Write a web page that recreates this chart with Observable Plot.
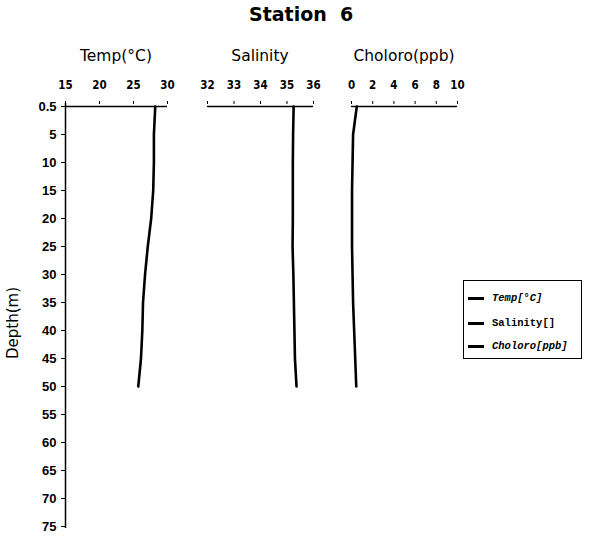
<!DOCTYPE html>
<html>
<head>
<meta charset="utf-8">
<script src="https://cdn.jsdelivr.net/npm/d3@7"></script>
<script src="https://cdn.jsdelivr.net/npm/@observablehq/plot@0.6"></script>
<style>
  html, body { margin: 0; padding: 0; background: #fff; }
  #chart { position: relative; width: 598px; height: 542px; overflow: hidden; font-family: "DejaVu Sans", sans-serif; color: #000; }
  #chart svg { position: absolute; top: 0; overflow: visible; }
  .title { position: absolute; top: 3px; left: 249px; font: bold 19px "DejaVu Sans", sans-serif; white-space: pre; }
  .sub { position: absolute; top: 47px; width: 140px; text-align: center; font: 15.5px "DejaVu Sans", sans-serif; }
  .ylab { position: absolute; left: 13px; top: 323px; transform: translate(-50%, -50%) rotate(-90deg); font: 15px "DejaVu Sans", sans-serif; white-space: nowrap; }
  .legend { position: absolute; left: 463px; top: 280px; width: 119px; height: 79px; border: 1px solid #000; box-sizing: border-box; }
  .legend .row { position: absolute; left: 4px; height: 14px; display: flex; align-items: center; font: bold 10.5px "Liberation Mono", "DejaVu Sans Mono", monospace; white-space: pre; }
  .legend .sw { display: inline-block; width: 16px; height: 3px; background: #000; margin-right: 8px; }
</style>
</head>
<body>
<div id="chart"></div>
<script>
// ---- data ----
const depthTicks = [0.5, 5, 10, 15, 20, 25, 30, 35, 40, 45, 50, 55, 60, 65, 70, 75];
const depths    = [0.5, 5, 10, 15, 20, 25, 30, 35, 40, 45, 50];
const temp      = [28.2, 28.0, 28.0, 27.9, 27.6, 27.1, 26.7, 26.4, 26.3, 26.1, 25.7];
const salinity  = [35.25, 35.23, 35.22, 35.22, 35.22, 35.21, 35.24, 35.26, 35.28, 35.30, 35.36];
const chloro    = [0.5, 0.15, 0.1, 0.05, 0.05, 0.05, 0.1, 0.15, 0.25, 0.35, 0.45];
const tempTicks = [15, 20, 25, 30];
const salTicks  = [32, 33, 34, 35, 36];
const chlTicks  = [0, 2, 4, 6, 8, 10];
const panelTitles = ["Temp(°C)", "Salinity", "Choloro(ppb)"];
const legendLabels = ["Temp[°C]", "Salinity[]", "Choloro[ppb]"];
const chartTitle = "Station  6";
const yTitle = "Depth(m)";

const rows = depths.map((d, i) => ({depth: d, temp: temp[i], salinity: salinity[i], chloro: chloro[i]}));

const chart = document.getElementById("chart");
const H = 542, MT = 103, MB = 14;
const tickFont = {fontSize: 11.5, fontWeight: "bold", fontFamily: "'DejaVu Sans Condensed', 'Liberation Sans Narrow', 'Liberation Sans', sans-serif"};

function panel({left, width, ml, mr, field, domain, ticks, withY}) {
  const marks = [
    Plot.ruleY([0.5], {stroke: "#000", strokeWidth: 1.5}),
    Plot.axisX({anchor: "top", ticks, tickSize: 3, tickPadding: 12, label: null, tickFormat: d => String(d), ...tickFont}),
    Plot.line(rows, {x: field, y: "depth", stroke: "#000", strokeWidth: 2.6})
  ];
  if (withY) {
    marks.unshift(Plot.ruleX([domain[0]], {stroke: "#000", strokeWidth: 1.5}));
    marks.push(Plot.axisY({anchor: "left", ticks: depthTicks, tickSize: 4, tickPadding: 5, label: null,
      tickFormat: d => String(d), fontSize: 13, fontWeight: "bold", fontFamily: "'Liberation Sans', sans-serif"}));
  }
  const svg = Plot.plot({
    width, height: H,
    marginLeft: ml, marginRight: mr, marginTop: MT, marginBottom: MB,
    x: {domain, axis: null},
    y: {type: "point", domain: depthTicks, padding: 0, axis: null},
    style: {background: "transparent", color: "#000"},
    marks
  });
  svg.style.left = left + "px";
  chart.appendChild(svg);
}

panel({left: 0, width: 180, ml: 65, mr: 13, field: "temp", domain: [15, 30], ticks: tempTicks, withY: true});
panel({left: 190, width: 140, ml: 17, mr: 17, field: "salinity", domain: [32, 36], ticks: salTicks});
panel({left: 335, width: 140, ml: 16, mr: 18, field: "chloro", domain: [0, 10], ticks: chlTicks});

// titles
const t = document.createElement("div"); t.className = "title"; t.textContent = chartTitle; chart.appendChild(t);
const centers = [116, 260, 404];
panelTitles.forEach((s, i) => {
  const d = document.createElement("div"); d.className = "sub"; d.textContent = s;
  d.style.left = (centers[i] - 70) + "px"; chart.appendChild(d);
});
const yl = document.createElement("div"); yl.className = "ylab"; yl.textContent = yTitle; chart.appendChild(yl);

// legend
const lg = document.createElement("div"); lg.className = "legend";
const rowTops = [10, 35, 58];
legendLabels.forEach((s, i) => {
  const r = document.createElement("div"); r.className = "row"; r.style.top = rowTops[i] + "px";
  if (i !== 1) r.style.fontStyle = "italic";
  const sw = document.createElement("span"); sw.className = "sw";
  const tx = document.createElement("span"); tx.textContent = s;
  r.appendChild(sw); r.appendChild(tx); lg.appendChild(r);
});
chart.appendChild(lg);
</script>
</body>
</html>
